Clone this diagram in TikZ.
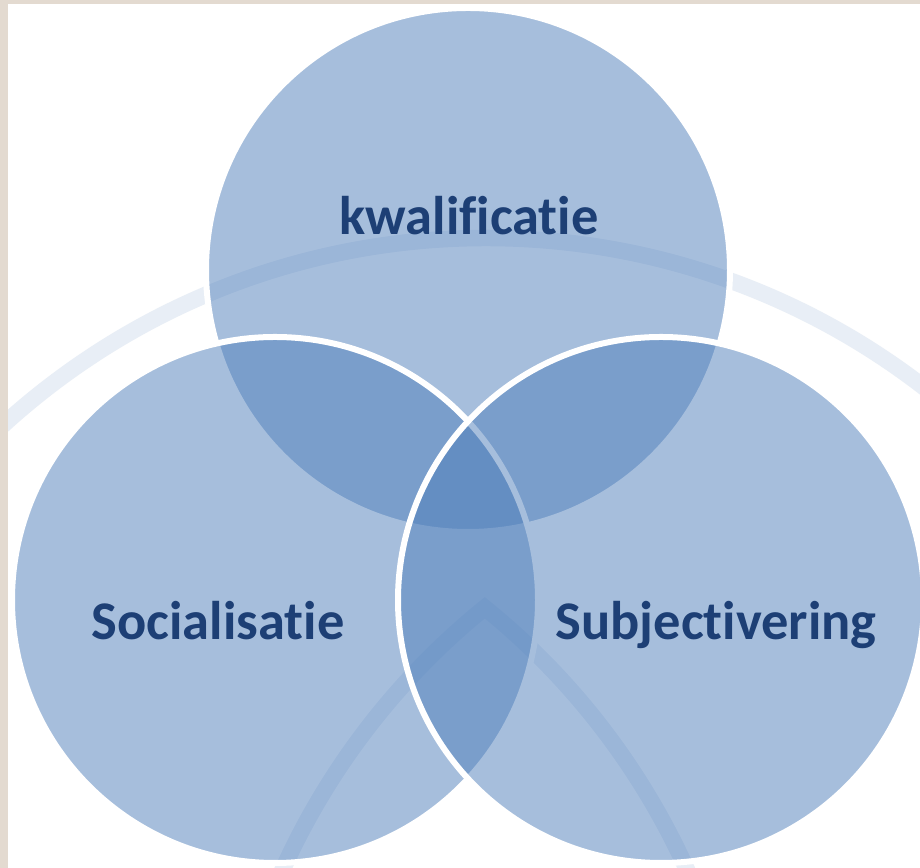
\documentclass[tikz,border=0pt]{standalone}
\usepackage{fontspec}
\newfontfamily\vennfont[Ligatures={NoCommon,NoRequired}]{Carlito}
\definecolor{vennblue}{RGB}{79,127,187}
\definecolor{venntext}{RGB}{29,63,117}
\definecolor{ringpale}{RGB}{232,238,246}
\definecolor{pagebeige}{RGB}{227,218,208}
\tikzset{
	venncirc/.style={fill=vennblue, fill opacity=0.5, draw=white, line width=0.12cm},
	ringband/.style={draw=ringpale, line width=0.33cm},
	vennlbl/.style={font=\vennfont\bfseries\fontsize{31}{37}\selectfont, text=venntext, anchor=base, inner sep=0pt}
}

\begin{document}
\begin{tikzpicture}[x=0.02cm,y=0.02cm]
	\useasboundingbox (0,0) rectangle (920,868);
	\fill[white] (0,0) rectangle (920,868);
	\begin{scope}
		\clip (0,0) rectangle (920,868);
		\draw[ringband] (486,-87) circle (717);
		\draw[ringband, line join=miter] (936,-297) ++(160:717) arc[start angle=160, end angle=129, radius=717] arc[start angle=51, end angle=20, radius=717];
		
		\draw[venncirc] (468,598) circle (262);
		\draw[venncirc] (275,268) circle (263);
		\draw[venncirc] (661,268) circle (263);
	\end{scope}
	\fill[pagebeige] (0,0) rectangle (8,868);
	\fill[pagebeige] (0,864) rectangle (920,868);
	
	\node[vennlbl] (kwal) at (469,633) {kwalificatie};
	\node[vennlbl] (soc) at (218,228) {Socialisatie};
	\node[vennlbl] (subj) at (716,228) {Subjectivering};
\end{tikzpicture}
\end{document}
